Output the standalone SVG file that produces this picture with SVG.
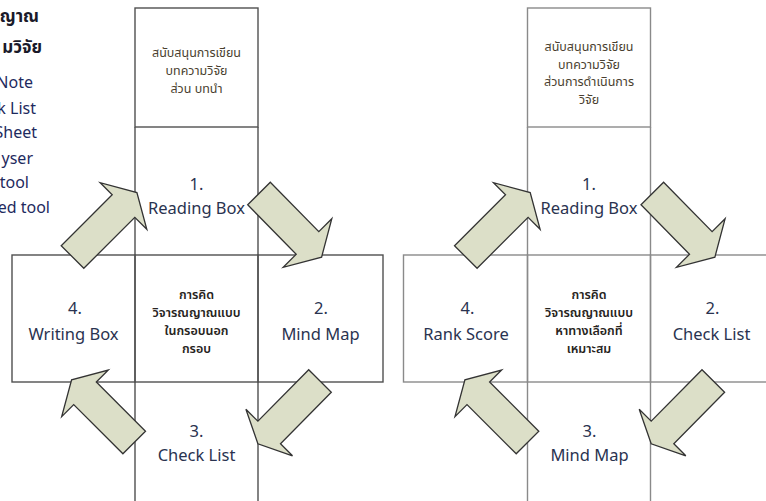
<svg xmlns="http://www.w3.org/2000/svg" width="766" height="501" viewBox="0 0 766 501">
<style>
.ln{fill:none;stroke:#505050;stroke-width:1.4}
.ln2{fill:none;stroke:#8a8a8a;stroke-width:1.4}
.arr{fill:#dcdfc8;stroke:#333;stroke-width:1.3;stroke-linejoin:miter}
.lbl{font-family:"Noto Sans","Open Sans",sans-serif;font-size:16.5px;fill:#2a3350;text-anchor:middle}
.th{font-family:"Noto Sans Thai","Noto Sans",sans-serif;font-size:12.5px;fill:#4a3f30;text-anchor:middle}
.thb{font-family:"Noto Sans Thai","Noto Sans",sans-serif;font-size:12.5px;font-weight:600;fill:#262320;text-anchor:middle}
.side{font-family:"Noto Sans","Open Sans",sans-serif;font-size:16px;fill:#1e2a5e;text-anchor:end}
.sideb{font-family:"Noto Sans Thai","Noto Sans",sans-serif;font-size:17px;font-weight:bold;fill:#1a1a2a;text-anchor:end}
</style>
<rect width="766" height="501" fill="#fff"/>

<g id="side-text">
<text class="sideb" x="39" y="22">ญาณ</text>
<text class="sideb" x="42" y="53">มวิจัย</text>
<text class="side" x="33" y="88">Note</text>
<text class="side" x="36" y="114">k List</text>
<text class="side" x="37" y="138">Sheet</text>
<text class="side" x="33" y="164">yser</text>
<text class="side" x="29" y="188">tool</text>
<text class="side" x="50" y="213">ed tool</text>
</g>

<g id="left-figure">
<g id="l-intro"><rect class="ln" x="135" y="8" width="123" height="119"/>
<text class="th" x="196.5" y="57">สนับสนุนการเขียน</text>
<text class="th" x="196.5" y="75">บทความวิจัย</text>
<text class="th" x="196.5" y="93">ส่วน บทนำ</text></g>
<g id="l-reading"><path class="ln" d="M135,127V255M258,127V255"/>
<text class="lbl" x="196.5" y="190">1.</text>
<text class="lbl" x="196.5" y="214">Reading Box</text></g>
<g id="l-center"><rect class="ln" x="135" y="255" width="123" height="127"/>
<text class="thb" x="196.5" y="299">การคิด</text>
<text class="thb" x="196.5" y="317">วิจารณญาณแบบ</text>
<text class="thb" x="196.5" y="335">ในกรอบนอก</text>
<text class="thb" x="196.5" y="353">กรอบ</text></g>
<g id="l-writing"><rect class="ln" x="12" y="255" width="123" height="127"/>
<text class="lbl" x="75" y="314">4.</text>
<text class="lbl" x="73.5" y="340">Writing Box</text></g>
<g id="l-mindmap"><rect class="ln" x="258" y="255" width="125" height="127"/>
<text class="lbl" x="321" y="314">2.</text>
<text class="lbl" x="320.5" y="340">Mind Map</text></g>
<g id="l-checklist"><path class="ln" d="M135,382V502M258,382V502"/>
<text class="lbl" x="196.5" y="437">3.</text>
<text class="lbl" x="196.5" y="461">Check List</text></g>
</g>

<g id="right-figure" transform="translate(392.5,0)">
<g id="r-intro"><rect class="ln2" x="135" y="8" width="123" height="119"/>
<text class="th" x="196.5" y="51">สนับสนุนการเขียน</text>
<text class="th" x="196.5" y="68.5">บทความวิจัย</text>
<text class="th" x="196.5" y="86">ส่วนการดำเนินการ</text>
<text class="th" x="196.5" y="103.5">วิจัย</text></g>
<g id="r-reading"><path class="ln2" d="M135,127V255M258,127V255"/>
<text class="lbl" x="196.5" y="190">1.</text>
<text class="lbl" x="196.5" y="214">Reading Box</text></g>
<g id="r-center"><rect class="ln2" x="135" y="255" width="123" height="127"/>
<text class="thb" x="196.5" y="299">การคิด</text>
<text class="thb" x="196.5" y="317">วิจารณญาณแบบ</text>
<text class="thb" x="196.5" y="335">หาทางเลือกที่</text>
<text class="thb" x="196.5" y="353">เหมาะสม</text></g>
<g id="r-rank"><rect class="ln2" x="11" y="255" width="124" height="127"/>
<text class="lbl" x="75" y="314">4.</text>
<text class="lbl" x="73.5" y="340">Rank Score</text></g>
<g id="r-checklist"><rect class="ln2" x="258" y="255" width="125" height="127"/>
<text class="lbl" x="320" y="314">2.</text>
<text class="lbl" x="319" y="340">Check List</text></g>
<g id="r-mindmap"><path class="ln2" d="M135,382V502M258,382V502"/>
<text class="lbl" x="197" y="437">3.</text>
<text class="lbl" x="197" y="461">Mind Map</text></g>
</g>

<g id="connectors">
<g id="l-arrows">
<polygon class="arr" points="83.8,268.3 134.8,217.3 146.8,229.3 136.9,192.6 100.2,182.7 112.2,194.7 61.2,245.7"/>
<polygon class="arr" points="270.3,182.2 318.8,231.7 331.8,218.7 321.6,257.1 283.2,267.3 296.2,254.3 247.7,204.8"/>
<polygon class="arr" points="331.3,392.3 280.5,443.8 292.5,455.8 257.9,443.8 245.9,409.2 257.9,421.2 308.7,369.7"/>
<polygon class="arr" points="122.9,453.8 73.7,404.6 61.7,416.6 71.6,379.9 108.3,370 96.3,382 145.5,431.2"/>
</g>
<g id="r-arrows" transform="translate(393.3,0)">
<polygon class="arr" points="83.8,268.3 134.8,217.3 146.8,229.3 136.9,192.6 100.2,182.7 112.2,194.7 61.2,245.7"/>
<polygon class="arr" points="270.3,182.2 318.8,231.7 331.8,218.7 321.6,257.1 283.2,267.3 296.2,254.3 247.7,204.8"/>
<polygon class="arr" points="331.3,392.3 280.5,443.8 292.5,455.8 257.9,443.8 245.9,409.2 257.9,421.2 308.7,369.7"/>
<polygon class="arr" points="122.9,453.8 73.7,404.6 61.7,416.6 71.6,379.9 108.3,370 96.3,382 145.5,431.2"/>
</g>
</g>
</svg>
